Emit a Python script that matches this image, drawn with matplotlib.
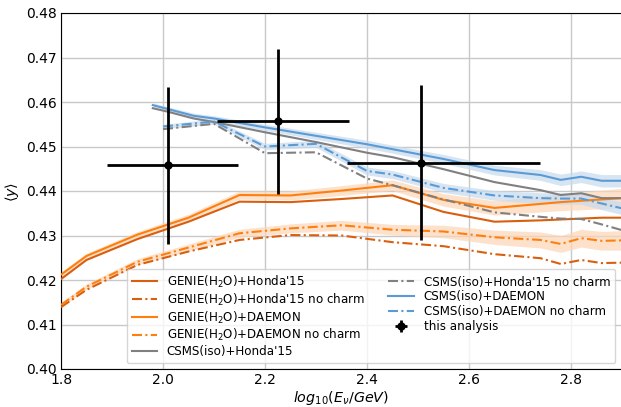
import numpy as np
import matplotlib
matplotlib.use("Agg")
import matplotlib.pyplot as plt

# ---------------- data ----------------
genie_x = [1.8, 1.85, 1.95, 2.05, 2.15, 2.25, 2.35, 2.45, 2.55, 2.65, 2.74, 2.78, 2.82, 2.86, 2.9]
genie_h15 = [0.4202, 0.4245, 0.4292, 0.4331, 0.4376, 0.4375, 0.4382, 0.4390, 0.4353, 0.4331,
             0.4334, 0.4336, 0.4338, 0.4340, 0.4340]
genie_h15_nc = [0.4139, 0.4178, 0.4234, 0.4264, 0.4290, 0.4301, 0.4300, 0.4285, 0.4276, 0.4258,
                0.4249, 0.4236, 0.4245, 0.4238, 0.4239]
genie_dm = [0.4212, 0.4254, 0.4302, 0.4340, 0.4391, 0.4390, 0.4401, 0.4413, 0.4380, 0.4362,
            0.4371, 0.4375, 0.4378, 0.4381, 0.4384]
genie_dm_nc = [0.4144, 0.4185, 0.4241, 0.4273, 0.4305, 0.4316, 0.4323, 0.4313, 0.4309, 0.4296,
               0.4290, 0.4281, 0.4294, 0.4288, 0.4289]
genie_dm_err = [0.0006, 0.0006, 0.0007, 0.0008, 0.0009, 0.0010, 0.0011, 0.0012, 0.0014, 0.0016,
                0.0018, 0.0019, 0.0020, 0.0021, 0.0022]

csms_x = [1.98, 2.01, 2.06, 2.1, 2.2, 2.3, 2.4, 2.45, 2.55, 2.65, 2.74, 2.78, 2.82, 2.86, 2.9]
csms_h15 = [0.4586, 0.4578, 0.4563, 0.4555, 0.4532, 0.4510, 0.4486, 0.4476, 0.4449, 0.4420,
            0.4402, 0.4391, 0.4395, 0.4384, 0.4384]
csms_dm = [0.4593, 0.4584, 0.4569, 0.4563, 0.4543, 0.4524, 0.4505, 0.4494, 0.4472, 0.4447,
           0.4436, 0.4425, 0.4432, 0.4423, 0.4423]
csms_dm_err = [0.0005, 0.0005, 0.0006, 0.0006, 0.0007, 0.0008, 0.0009, 0.0009, 0.0010, 0.0011,
               0.0012, 0.0013, 0.0013, 0.0014, 0.0014]

csms_nc_x = [2.0, 2.1, 2.2, 2.3, 2.4, 2.45, 2.55, 2.65, 2.74, 2.78, 2.82, 2.86, 2.9]
csms_h15_nc = [0.4539, 0.4551, 0.4485, 0.4487, 0.4428, 0.4413, 0.4381, 0.4352, 0.4342, 0.4338,
               0.4337, 0.4325, 0.4312]
csms_dm_nc = [0.4545, 0.4556, 0.4500, 0.4506, 0.4445, 0.4437, 0.4407, 0.4390, 0.4384, 0.4383,
              0.4383, 0.4372, 0.4361]
csms_dm_nc_err = [0.0005, 0.0006, 0.0007, 0.0008, 0.0009, 0.0009, 0.0010, 0.0011, 0.0012, 0.0013,
                  0.0013, 0.0014, 0.0014]

meas_x = [2.01, 2.226, 2.506]
meas_y = [0.4458, 0.4557, 0.4464]
meas_xlo = [0.12, 0.12, 0.146]
meas_xhi = [0.137, 0.139, 0.233]
meas_yerr = [0.0176, 0.0163, 0.0174]

# ---------------- style ----------------
c_dark = '#d95f0e'
c_orange = '#ff7f0e'
c_grey = '#808080'
c_blue = '#5b9bd5'
band_orange = '#fdd5b4'
band_blue = '#c6dbef'
dashdot = (0, (4.8, 1.6, 1.0, 1.6))

fig = plt.figure(figsize=(6.21, 4.07), dpi=100)
ax = fig.add_axes([61/621, 1-369/407, 561/621, 356/407])

def band(x, y, e, color):
    x = np.asarray(x); y = np.asarray(y); e = np.asarray(e)
    ax.fill_between(x, y - e, y + e, color=color, alpha=0.7, lw=0, zorder=1)

band(genie_x, genie_dm, genie_dm_err, band_orange)
band(genie_x, genie_dm_nc, genie_dm_err, band_orange)
band(csms_x, csms_dm, csms_dm_err, band_blue)
band(csms_nc_x, csms_dm_nc, csms_dm_nc_err, band_blue)

lw = 1.5
ax.plot(genie_x, genie_h15, color=c_dark, lw=lw, label="GENIE(H$_2$O)+Honda'15", zorder=3)
ax.plot(genie_x, genie_h15_nc, color=c_dark, lw=lw, ls=dashdot, label="GENIE(H$_2$O)+Honda'15 no charm", zorder=3)
ax.plot(genie_x, genie_dm, color=c_orange, lw=lw, label="GENIE(H$_2$O)+DAEMON", zorder=3)
ax.plot(genie_x, genie_dm_nc, color=c_orange, lw=lw, ls=dashdot, label="GENIE(H$_2$O)+DAEMON no charm", zorder=3)
ax.plot(csms_x, csms_h15, color=c_grey, lw=lw, label="CSMS(iso)+Honda'15", zorder=3)
ax.plot(csms_nc_x, csms_h15_nc, color=c_grey, lw=lw, ls=dashdot, label="CSMS(iso)+Honda'15 no charm", zorder=3)
ax.plot(csms_x, csms_dm, color=c_blue, lw=lw, label="CSMS(iso)+DAEMON", zorder=3)
ax.plot(csms_nc_x, csms_dm_nc, color=c_blue, lw=lw, ls=dashdot, label="CSMS(iso)+DAEMON no charm", zorder=3)

ax.errorbar(meas_x, meas_y, xerr=[meas_xlo, meas_xhi], yerr=meas_yerr, fmt='o', color='black',
            ms=5, elinewidth=2, capsize=0, label='this analysis', zorder=5)

ax.set_xlim(1.8, 2.9)
ax.set_ylim(0.40, 0.48)
ax.set_xticks([1.8, 2.0, 2.2, 2.4, 2.6, 2.8])
ax.set_yticks(np.arange(0.40, 0.4801, 0.01))
ax.yaxis.set_major_formatter(matplotlib.ticker.FormatStrFormatter('%.2f'))
ax.tick_params(labelsize=10, length=0, pad=3)
ax.grid(True, color='#c8c8c8', lw=1)
ax.set_axisbelow(True)
ax.set_xlabel(r'$log_{10}(E_\nu/GeV)$', fontsize=10.3)
ax.xaxis.set_label_coords(0.5, -(389 - 369) / 356)
ax.set_ylabel(r'$\langle y \rangle$', fontsize=10.3)
ax.yaxis.set_label_coords(-(61 - 21) / 561, (369 - 192) / 356)

ax.legend(ncol=2, loc='lower right', fontsize=8.6, framealpha=0.8,
          bbox_to_anchor=((615 - 61) / 561, (369 - 363) / 356), borderaxespad=0,
          handlelength=2.1, handletextpad=0.84, columnspacing=2.0,
          labelspacing=0.15, borderpad=0.4)

fig.savefig('out.png', dpi=100)
